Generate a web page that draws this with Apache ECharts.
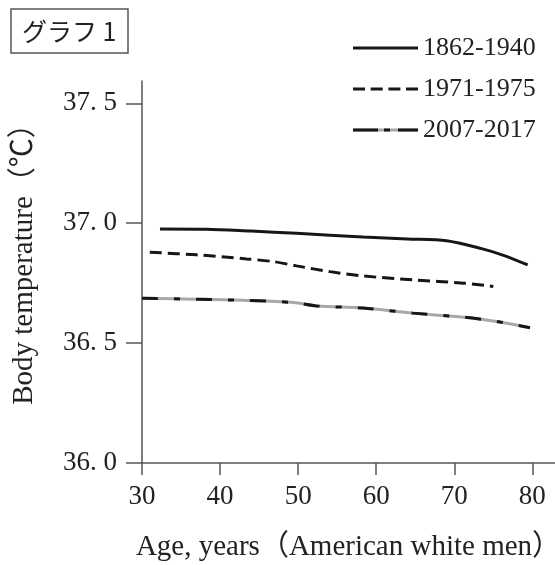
<!DOCTYPE html>
<html>
<head>
<meta charset="utf-8">
<script src="https://cdn.jsdelivr.net/npm/echarts@6/dist/echarts.min.js"></script>
<style>
  html, body { margin: 0; padding: 0; background: #fff; }
  #main { width: 555px; height: 565px; }
</style>
</head>
<body>
<div id="main"></div>
<script>
// 年齢ごとの体温 (グラフ1)
var ages1862 = [32.3, 38.3, 44.0, 49.8, 58.3, 64.0, 69.0, 73.5, 76.3, 79.4];
var temps1862 = [36.976, 36.975, 36.967, 36.958, 36.942, 36.934, 36.927, 36.894, 36.866, 36.826];

var ages1971 = [31.0, 37.0, 43.4, 46.8, 49.8, 54.1, 58.3, 64.7, 71.2, 75.0];
var temps1971 = [36.879, 36.868, 36.851, 36.840, 36.822, 36.798, 36.780, 36.764, 36.750, 36.736];

var ages2007 = [30.0, 37.0, 43.4, 49.4, 52.4, 58.3, 64.7, 71.2, 75.4, 79.7];
var temps2007 = [36.687, 36.683, 36.678, 36.669, 36.655, 36.646, 36.625, 36.608, 36.590, 36.564];

var seriesNames = ['1862-1940', '1971-1975', '2007-2017'];
var xTicks = [30, 40, 50, 60, 70, 80];
var yTicks = [36.0, 36.5, 37.0, 37.5];

function pairs(xs, ys) {
  var out = [];
  for (var i = 0; i < xs.length; i++) {
    out.push([xs[i], ys[i]]);
  }
  return out;
}

var ink = '#161616';
var grey = '#a8a8a8';
var serif = '"Liberation Serif", "Noto Sans CJK JP", serif';

// 凡例用のアイコン (svg の線)
function icon(parts) {
  var svg = "<svg xmlns='http://www.w3.org/2000/svg' width='65' height='6'>" + parts + "</svg>";
  return 'image://data:image/svg+xml;charset=utf-8,' + encodeURIComponent(svg);
}
function seg(x, w, col) {
  return "<rect x='" + x + "' y='1.5' width='" + w + "' height='3' fill='" + col + "'/>";
}
var iconSolid = icon(seg(0, 65, ink));
var iconDash = icon(seg(0, 12, ink) + seg(17.7, 12, ink) + seg(35.4, 12, ink) + seg(53, 12, ink));
var iconMix = icon(seg(0, 65, grey) + seg(0, 25, ink) + seg(31, 6, ink) + seg(45, 20, ink));

var myChart = echarts.init(document.getElementById('main'));

myChart.setOption({
  animation: false,
  title: {
    text: 'グラフ 1',
    left: 11,
    top: 9,
    padding: [10, 12, 9, 11],
    borderColor: '#555',
    borderWidth: 1.5,
    textStyle: {
      fontSize: 25,
      fontWeight: 'normal',
      fontFamily: '"Noto Sans CJK JP", sans-serif',
      color: '#222'
    }
  },
  legend: {
    orient: 'vertical',
    left: 348,
    top: 30,
    itemWidth: 65,
    itemHeight: 6,
    itemGap: 15,
    selectedMode: false,
    textStyle: { fontSize: 26, fontFamily: serif, color: '#222' },
    data: [
      { name: seriesNames[0], icon: iconSolid },
      { name: seriesNames[1], icon: iconDash },
      { name: seriesNames[2], icon: iconMix }
    ]
  },
  grid: {
    left: 142,
    right: 0,
    top: 81,
    bottom: 102,
    outerBoundsMode: 'none'
  },
  xAxis: {
    type: 'value',
    min: 30,
    max: 82.9,
    name: 'Age, years（American white men）',
    nameLocation: 'middle',
    nameGap: 70,
    nameTextStyle: {
      fontSize: 29,
      fontFamily: serif,
      color: '#222'
    },
    splitLine: { show: false },
    axisLine: { lineStyle: { color: '#555', width: 1.5 } },
    axisTick: { length: 12, customValues: xTicks, lineStyle: { color: '#555', width: 1.5 } },
    axisLabel: {
      customValues: xTicks,
      margin: 20,
      fontSize: 27,
      fontFamily: serif,
      color: '#222'
    }
  },
  yAxis: {
    type: 'value',
    min: 36,
    max: 37.593,
    name: 'Body temperature（℃）',
    nameLocation: 'middle',
    nameGap: 103,
    nameTextStyle: {
      fontSize: 29,
      fontFamily: serif,
      color: '#222',
      padding: [0, 0, 0, 30]
    },
    splitLine: { show: false },
    axisLine: { show: true, lineStyle: { color: '#555', width: 1.5 } },
    axisTick: { show: true, length: 16, customValues: yTicks, lineStyle: { color: '#555', width: 1.5 } },
    axisLabel: {
      customValues: yTicks,
      margin: 25,
      fontSize: 27,
      fontFamily: serif,
      color: '#222',
      formatter: function (v) {
        return v.toFixed(1).replace('.', '. ');
      }
    }
  },
  series: [
    {
      name: seriesNames[0],
      type: 'line',
      symbol: 'none',
      smooth: 0.3,
      data: pairs(ages1862, temps1862),
      lineStyle: { color: ink, width: 3 },
      itemStyle: { color: ink }
    },
    {
      name: seriesNames[1],
      type: 'line',
      symbol: 'none',
      smooth: 0.3,
      data: pairs(ages1971, temps1971),
      lineStyle: { color: ink, width: 3, type: [12, 6] },
      itemStyle: { color: ink }
    },
    {
      // 灰色のベースライン
      name: seriesNames[2],
      type: 'line',
      symbol: 'none',
      smooth: 0.3,
      data: pairs(ages2007, temps2007),
      lineStyle: { color: grey, width: 3 },
      itemStyle: { color: grey }
    },
    {
      // 上に重ねる黒の破線
      name: seriesNames[2],
      type: 'line',
      symbol: 'none',
      smooth: 0.3,
      data: pairs(ages2007, temps2007),
      lineStyle: { color: ink, width: 3, type: [16, 16, 6, 16] },
      itemStyle: { color: ink }
    }
  ]
});
</script>
</body>
</html>
